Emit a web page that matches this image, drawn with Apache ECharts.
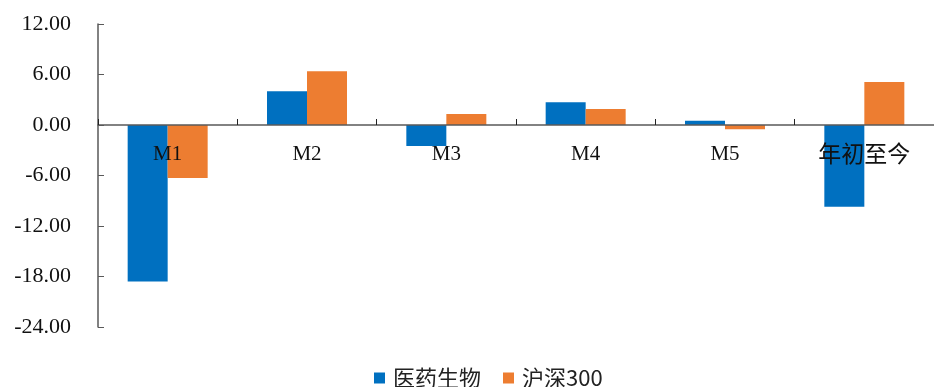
<!DOCTYPE html>
<html>
<head>
<meta charset="utf-8">
<script src="https://cdn.jsdelivr.net/npm/echarts@6/dist/echarts.min.js"></script>
<style>
  html, body { margin: 0; padding: 0; background: #fff; }
  #chart { width: 934px; height: 387px; }
</style>
</head>
<body>
<div id="chart"></div>
<script>
// Period returns: pharma sector vs CSI 300
const categories = ['M1', 'M2', 'M3', 'M4', 'M5', '年初至今'];
const pharma = [-18.6, 4.0, -2.5, 2.7, 0.5, -9.7];
const csi300 = [-6.3, 6.4, 1.3, 1.9, -0.5, 5.1];
const seriesNames = ['医药生物', '沪深300'];
const yTicks = { min: -24, max: 12, interval: 6 };

const serif = '"Liberation Serif", "Times New Roman", "Noto Sans CJK SC", serif';
const chart = echarts.init(document.getElementById('chart'));
chart.setOption({
  animation: false,
  grid: { left: 98, right: -8, top: 24, bottom: 60, containLabel: false },
  legend: {
    top: 362,
    left: 369,
    itemWidth: 11,
    itemHeight: 11,
    itemGap: 22,
    icon: 'rect',
    textStyle: {
      fontFamily: '"Noto Sans CJK SC", "Liberation Sans", sans-serif',
      fontSize: 22,
      color: '#222',
      padding: [0, 0, 0, 3]
    },
    data: seriesNames
  },
  xAxis: {
    type: 'category',
    data: categories,
    z: 10,
    axisLine: { onZero: true, lineStyle: { color: '#595959', width: 1.5 } },
    axisTick: { show: true, inside: true, length: 6, interval: 0, alignWithLabel: false, lineStyle: { color: '#222' } },
    axisLabel: {
      // labels sit just under the zero line, overlapping the negative bars
      interval: 0,
      hideOverlap: false,
      margin: -183,
      fontSize: 21,
      color: '#111',
      fontFamily: serif,
      formatter: v => /^[\x00-\x7f]+$/.test(v) ? v : '{cjk|' + v + '}',
      rich: { cjk: { fontSize: 23, color: '#111', fontFamily: serif } }
    }
  },
  yAxis: {
    type: 'value',
    min: yTicks.min,
    max: yTicks.max,
    interval: yTicks.interval,
    splitLine: { show: false },
    axisLine: { show: true, lineStyle: { color: '#595959', width: 1.5 } },
    axisTick: { show: true, inside: true, length: 6, lineStyle: { color: '#595959' } },
    axisLabel: {
      margin: 27,
      fontSize: 22,
      color: '#111',
      fontFamily: serif,
      formatter: v => v.toFixed(2)
    }
  },
  series: [
    {
      name: seriesNames[0],
      type: 'bar',
      data: pharma,
      itemStyle: { color: '#0070C0' },
      barWidth: 40,
      barGap: '0%'
    },
    {
      name: seriesNames[1],
      type: 'bar',
      data: csi300,
      itemStyle: { color: '#ED7D31' },
      barWidth: 40,
      barGap: '0%'
    }
  ]
});
</script>
</body>
</html>
